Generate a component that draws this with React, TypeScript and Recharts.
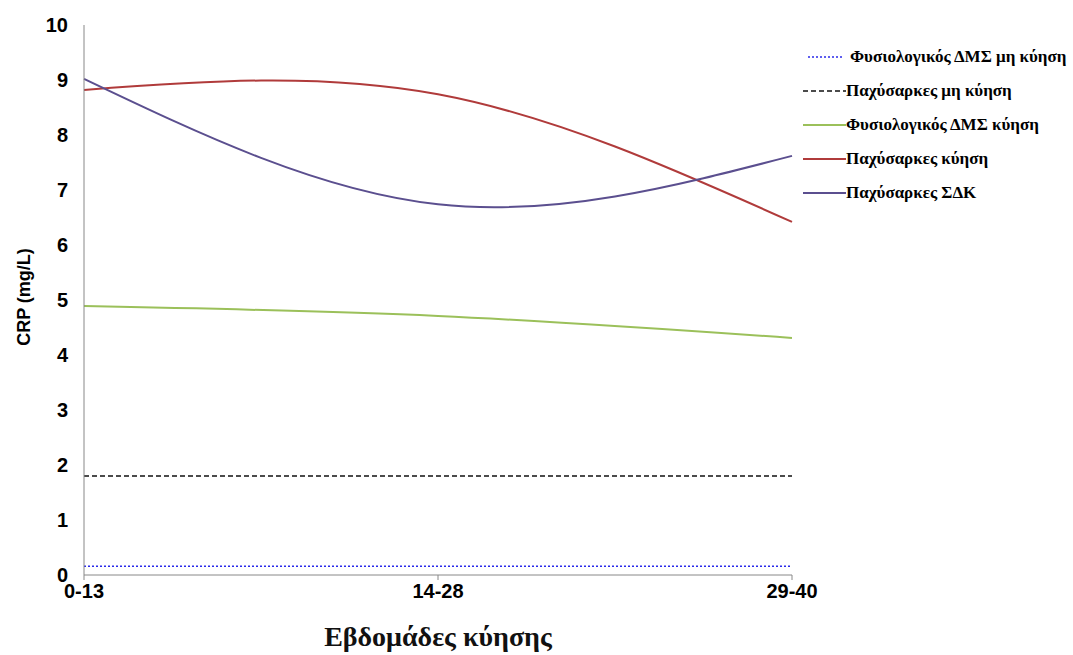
import { LineChart, Line, XAxis, YAxis, Legend, Label } from 'recharts';

const weeks = ['0-13', '14-28', '29-40'];
const normalBmiNonPregnant = [0.16, 0.16, 0.16];
const obeseNonPregnant = [1.8, 1.8, 1.8];
const normalBmiPregnant = [4.89, 4.71, 4.31];
const obesePregnant = [8.82, 8.74, 6.42];
const obeseGdm = [9.02, 6.74, 7.62];
const yTicks = [0, 1, 2, 3, 4, 5, 6, 7, 8, 9, 10];

const series = [
  { key: 'nbNp', name: 'Φυσιολογικός ΔΜΣ μη κύηση', values: normalBmiNonPregnant, color: '#2b2bea', dash: '2 2', width: 1.5, natural: false },
  { key: 'obNp', name: 'Παχύσαρκες μη κύηση', values: obeseNonPregnant, color: '#111111', dash: '5 3', width: 1.6, natural: false },
  { key: 'nbP', name: 'Φυσιολογικός ΔΜΣ κύηση', values: normalBmiPregnant, color: '#9bc05a', dash: undefined, width: 2, natural: true },
  { key: 'obP', name: 'Παχύσαρκες κύηση', values: obesePregnant, color: '#b03b3b', dash: undefined, width: 2, natural: true },
  { key: 'obGdm', name: 'Παχύσαρκες ΣΔΚ', values: obeseGdm, color: '#5b4f8f', dash: undefined, width: 2, natural: true },
];

const data = weeks.map((w, i) => {
  const row: Record<string, string | number> = { week: w };
  series.forEach((s) => {
    row[s.key] = s.values[i];
  });
  return row;
});

const tickFont = { fontFamily: '"Liberation Sans", Arial, sans-serif', fontWeight: 700, fontSize: 20, fill: '#000' };

const renderLegend = () => (
  <div style={{ fontFamily: '"Liberation Serif", "Times New Roman", serif', fontWeight: 700, fontSize: 17, color: '#000' }}>
    {series.map((s, i) => (
      <div key={s.key} style={{ display: 'flex', alignItems: 'center', height: 34 }}>
        <svg width={43} height={6} style={{ marginRight: i === 0 ? 4 : 0 }}>
          <line
            x1={i === 0 ? 5 : 0}
            y1={3}
            x2={i === 0 ? 40 : 43}
            y2={3}
            stroke={s.color}
            strokeWidth={s.width}
            strokeDasharray={s.dash}
          />
        </svg>
        <span>{s.name}</span>
      </div>
    ))}
  </div>
);

export default function App() {
  return (
    <div style={{ position: 'absolute', left: 0, top: 0, background: '#fff' }}>
      <LineChart width={1073} height={655} data={data} margin={{ top: 25, right: 281, bottom: 0, left: 0 }}>
        <XAxis
          dataKey="week"
          height={80}
          stroke="#888"
          tick={tickFont}
          tickSize={5}
          tickMargin={4}
          interval={0}
        >
          <Label
            value="Εβδομάδες κύησης"
            position="insideBottom"
            offset={9}
            style={{ fontFamily: '"Liberation Serif", "Times New Roman", serif', fontWeight: 700, fontSize: 28, fill: '#111' }}
          />
        </XAxis>
        <YAxis
          width={84}
          domain={[0, 10]}
          ticks={yTicks}
          interval={0}
          stroke="#888"
          tickLine={false}
          tickSize={0}
          tickMargin={16}
          tick={tickFont}
        >
          <Label
            content={({ viewBox }: any) => {
              const cy = viewBox.y + viewBox.height / 2 - 3;
              return (
                <text
                  x={24}
                  y={cy}
                  transform={`rotate(-90 24 ${cy})`}
                  textAnchor="middle"
                  dominantBaseline="central"
                  style={{ fontFamily: '"Liberation Sans", Arial, sans-serif', fontWeight: 700, fontSize: 18, fill: '#000' }}
                >
                  CRP (mg/L)
                </text>
              );
            }}
          />
        </YAxis>
        <Legend
          layout="vertical"
          align="center"
          verticalAlign="middle"
          content={renderLegend}
          wrapperStyle={{ left: 803, top: 40, width: 270 }}
        />
        {series.map((s) => (
          <Line
            key={s.key}
            dataKey={s.key}
            name={s.name}
            type={s.natural ? 'natural' : 'linear'}
            stroke={s.color}
            strokeWidth={s.width}
            strokeDasharray={s.dash}
            dot={false}
            activeDot={false}
            isAnimationActive={false}
          />
        ))}
      </LineChart>
    </div>
  );
}
